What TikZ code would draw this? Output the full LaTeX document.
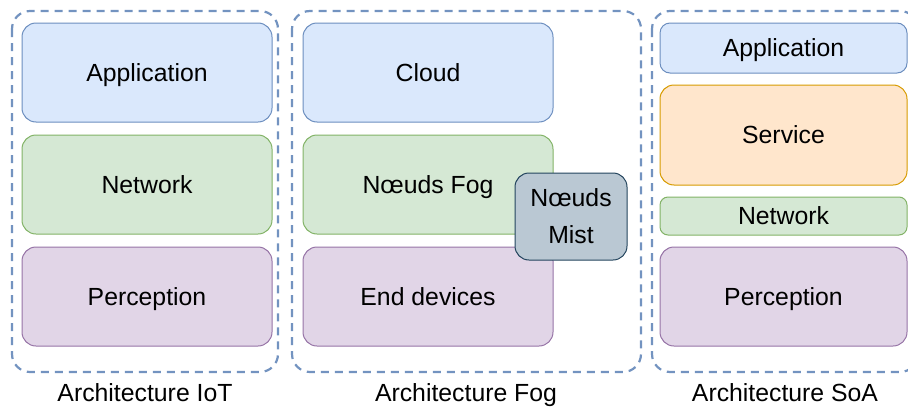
\documentclass[tikz,border=0pt]{standalone}
\usepackage{fontspec}
\setmainfont{Liberation Sans}

\definecolor{appfill}{HTML}{DAE8FC}
\definecolor{appdraw}{HTML}{6C8EBF}
\definecolor{netfill}{HTML}{D5E8D4}
\definecolor{netdraw}{HTML}{82B366}
\definecolor{perfill}{HTML}{E1D5E7}
\definecolor{perdraw}{HTML}{9673A6}
\definecolor{srvfill}{HTML}{FFE6CC}
\definecolor{srvdraw}{HTML}{D79B00}
\definecolor{mistfill}{HTML}{BAC8D3}
\definecolor{mistdraw}{HTML}{23445D}
\definecolor{groupdraw}{HTML}{7393C0}

\tikzset{
  tier/.style={draw, rounded corners=7pt, line width=0.5pt, inner sep=0pt},
  layer/.style={tier, text height=8.9pt, text depth=0pt},
  appl/.style={layer, fill=appfill, draw=appdraw},
  netw/.style={layer, fill=netfill, draw=netdraw},
  perc/.style={layer, fill=perfill, draw=perdraw},
  serv/.style={layer, fill=srvfill, draw=srvdraw},
  group/.style={draw=groupdraw, line width=1.1pt, dash pattern=on 4pt off 3pt, rounded corners=9pt},
}

\begin{document}
\begin{tikzpicture}[x=0.5pt,y=-0.5pt,font=\fontsize{12.4}{14}\selectfont]
\useasboundingbox (0,0) rectangle (908,407);
\clip (0,0) rectangle (908,407);

% IoT
\begin{scope}
\draw[group] (12,11) rectangle (278,372);
\node[appl,minimum width=125pt,minimum height=49.5pt] (iotapp) at (147,72.5) {Application};
\node[netw,minimum width=125pt,minimum height=49.5pt] (iotnet) at (147,184.5) {Network};
\node[perc,minimum width=125pt,minimum height=49.5pt] (iotper) at (147,296.5) {Perception};
\node[anchor=base] (iotcap) at (145,401) {Architecture IoT};
\end{scope}

% Fog
\begin{scope}
\draw[group] (292,11) rectangle (641,372);
\node[appl,minimum width=125pt,minimum height=49.5pt] (cloud) at (428,72.5) {Cloud};
\node[netw,minimum width=125pt,minimum height=49.5pt] (fog) at (428,184.5) {Nœuds Fog};
\node[perc,minimum width=125pt,minimum height=49.5pt] (enddev) at (428,296.5) {End devices};
\node[tier,fill=mistfill,draw=mistdraw,minimum width=56pt,minimum height=43.5pt,
      align=center,font=\fontsize{12.4}{18.5}\selectfont] (mist) at (571,216.5) {Nœuds\\Mist};
\node[anchor=base] (fogcap) at (466,401) {Architecture Fog};
\end{scope}

% SoA
\begin{scope}
\draw[group] (652,11) rectangle (918,372);
\node[appl,minimum width=123.5pt,minimum height=25pt,rounded corners=5pt] (soaapp) at (783.5,48) {Application};
\node[serv,minimum width=123.5pt,minimum height=50pt] (soasrv) at (783.5,135) {Service};
\node[netw,minimum width=123.5pt,minimum height=19pt,rounded corners=4pt] (soanet) at (783.5,216) {Network};
\node[perc,minimum width=123.5pt,minimum height=49.5pt] (soaper) at (783.5,296.5) {Perception};
\node[anchor=base] (soacap) at (785,401) {Architecture SoA};
\end{scope}

\end{tikzpicture}
\end{document}
